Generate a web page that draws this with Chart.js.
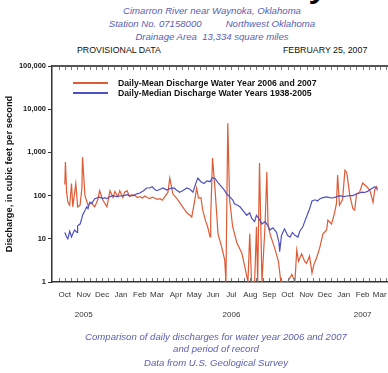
<!DOCTYPE html>
<html>
<head>
<meta charset="utf-8">
<script src="https://cdn.jsdelivr.net/npm/chart.js@4.4.0/dist/chart.umd.min.js"></script>
<style>
  html, body { margin: 0; padding: 0; background: #fff; }
  body { width: 388px; height: 373px; overflow: hidden; position: relative;
         font-family: "Liberation Sans", Arial, sans-serif; }
  #plot { position: absolute; left: 0; top: 0; }
  .t { position: absolute; white-space: nowrap; }
  .big { left: -164px; top: -42px; font-size: 44px; line-height: 44px; color: #000; }
  .hdr { left: 0; width: 424px; text-align: center; color: #5a5eb0; font-style: italic;
         font-size: 9.6px; line-height: 12px; }
  .ftr { left: 0; width: 432px; text-align: center; color: #5a5eb0; font-style: italic;
         font-size: 9.6px; line-height: 12px; }
  .cap { font-size: 8.8px; line-height: 10px; color: #111; top: 45px; }
  .leg { left: 118px; font-size: 8.7px; line-height: 10px; font-weight: bold; color: #111; }
  .sw { position: absolute; left: 73px; width: 35px; height: 2px; }
</style>
</head>
<body>
<div class="t big">Cimarron River near Waynoka</div>
<div class="t hdr" style="top:5px">Cimarron River near Waynoka, Oklahoma</div>
<div class="t hdr" style="top:18px">Station No. 07158000<span style="display:inline-block;width:24px"></span>Northwest Oklahoma</div>
<div class="t hdr" style="top:31px">Drainage Area&nbsp; 13,334 square miles</div>
<div class="t cap" style="left:77px">PROVISIONAL DATA</div>
<div class="t cap" style="left:283px">FEBRUARY 25, 2007</div>

<canvas id="plot" width="400" height="373"></canvas>

<div class="sw" style="top:82px;background:#de5b36"></div>
<div class="t leg" style="top:78px">Daily-Mean Discharge Water Year 2006 and 2007</div>
<div class="sw" style="top:92px;background:#4c50c4"></div>
<div class="t leg" style="top:88px">Daily-Median Discharge Water Years 1938-2005</div>

<div class="t ftr" style="top:331px">Comparison of daily discharges for water year 2006 and 2007</div>
<div class="t ftr" style="top:343px">and period of record</div>
<div class="t ftr" style="top:357px">Data from U.S. Geological Survey</div>

<script>
// Days counted from Oct 1, 2005; discharge in cubic feet per second.
const monthDays   = [0, 31, 61, 92, 123, 151, 182, 212, 243, 273, 304, 335, 365, 396, 426, 457, 488, 516];
const monthLabels = ['Oct','Nov','Dec','Jan','Feb','Mar','Apr','May','Jun','Jul','Aug','Sep','Oct','Nov','Dec','Jan','Feb','Mar'];
const yearLabels  = ['', '2005', '', '', '', '', '', '', '', '2006', '', '', '', '', '', '', '2007', ''];

const yTicks  = [1, 10, 100, 1000, 10000, 100000];
const yLabels = ['1', '10', '100', '1,000', '10,000', '100,000'];

// Daily-mean discharge, water years 2006 and 2007
const meanDays = [0,1,3,5,8,11,13,18,21,25,28,29,33,38,43,49,54,57,62,69,74,79,82,87,90,95,98,102,
  106,110,115,119,123,127,131,135,139,143,147,151,156,160,164,169,172,177,183,188,193,200,205,208,
  213,216,219,223,226,231,234,238,239,242,246,251,257,262,264,267,270,275,282,290,296,300,303,306,
  311,314,316,319,323,328,331,333,337,344,350,354,365,372,377,380,383,388,393,396,401,405,408,413,
  418,423,429,431,437,442,445,447,450,455,459,462,467,472,475,478,483,488,495,500,505,508,511,512];
const meanValues = [180,600,120,70,60,190,55,190,55,60,150,780,100,60,70,55,80,130,80,55,130,90,125,95,130,90,120,130,
  95,105,100,90,95,88,98,90,85,92,88,82,85,78,95,120,255,110,88,70,55,40,35,32,
  80,150,88,90,46,25,19,11,30,740,150,13,6.5,3.2,1,4700,80,19,8,4.7,1.9,1,13,1,
  1,19,1,570,1,19,350,20,12,6,3,1,1,1.5,1,5.5,3,4.5,3,2.7,4,1.6,2.5,3.8,
  6.5,13,16,27,22,40,65,300,60,80,390,340,100,50,46,110,120,195,160,130,70,140,160,130];

// Daily-median discharge, water years 1938-2005
const medianDays = [0,3,5,8,11,13,16,20,21,25,28,29,33,36,38,41,44,49,57,62,66,69,74,79,85,90,97,102,
  106,113,118,123,129,134,139,143,147,151,156,161,167,172,179,183,188,193,200,205,210,215,218,223,
  228,233,238,242,246,251,257,262,265,270,275,278,283,287,292,295,298,303,306,311,314,319,323,328,
  333,336,341,347,351,352,355,360,365,369,373,377,382,385,390,393,396,400,403,405,410,414,418,423,
  429,434,439,446,450,457,462,467,472,478,483,487,491,496,501,508,512];
const medianValues = [14,11,10,15,11,13,16,14,20,22,30,35,45,55,50,70,65,85,92,85,90,85,95,100,95,98,100,105,
  100,100,110,115,130,150,150,160,140,130,140,150,135,145,150,135,120,130,150,140,120,200,255,210,
  190,220,210,260,250,200,160,130,110,95,80,65,60,55,45,40,35,40,30,25,35,28,22,25,
  20,16,18,14,8,5,12,17,12,11,14,12,11,15,19,25,32,45,60,75,80,75,85,90,
  93,90,88,95,100,95,98,100,100,110,115,120,118,125,140,160,145];

const RED = '#de5b36';
const BLUE = '#4c50c4';
const FONT = '"Liberation Sans", Arial, sans-serif';

// Short tick marks along the inside of the top frame and the bottom axis
const minorDays = [-10];
monthDays.forEach(d => minorDays.push(d, d + 10, d + 20));

const frameTicks = {
  id: 'frameTicks',
  afterDraw(chart) {
    const { ctx, chartArea: { left, right, top, bottom }, scales: { x } } = chart;
    ctx.save();
    ctx.strokeStyle = '#555';
    ctx.lineWidth = 2;
    ctx.beginPath();
    ctx.moveTo(left, top);
    ctx.lineTo(right + 10, top);
    ctx.stroke();
    ctx.strokeStyle = '#777';
    ctx.lineWidth = 1;
    ctx.beginPath();
    minorDays.forEach(d => {
      const px = Math.round(x.getPixelForValue(d)) + 0.5;
      if (px <= left + 1 || px > right) return;
      ctx.moveTo(px, bottom - 1);
      ctx.lineTo(px, bottom - 4);
      ctx.moveTo(px, top + 1);
      ctx.lineTo(px, top + 4);
    });
    ctx.stroke();
    ctx.restore();
  }
};

new Chart(document.getElementById('plot'), {
  type: 'line',
  data: {
    datasets: [
      {
        label: 'Daily-Mean Discharge Water Year 2006 and 2007',
        data: meanDays.map((d, i) => ({ x: d, y: meanValues[i] })),
        borderColor: RED, borderWidth: 1.2, pointRadius: 0, tension: 0, order: 2
      },
      {
        label: 'Daily-Median Discharge Water Years 1938-2005',
        data: medianDays.map((d, i) => ({ x: d, y: medianValues[i] })),
        borderColor: BLUE, borderWidth: 1.2, pointRadius: 0, tension: 0, order: 1
      }
    ]
  },
  options: {
    responsive: false,
    animation: false,
    devicePixelRatio: 1,
    layout: { padding: { left: 0, right: 5, top: 66, bottom: 53 } },
    plugins: { legend: { display: false }, tooltip: { enabled: false } },
    scales: {
      x: {
        type: 'linear', min: -21, max: 541,
        afterBuildTicks: s => { s.ticks = monthDays.map(v => ({ value: v })); },
        afterFit: s => { s.height = 38; },
        ticks: {
          autoSkip: false, maxRotation: 0, minRotation: 0, padding: 8,
          color: '#333', font: { family: FONT, size: 8, lineHeight: 1.25 },
          callback: (v, i) => yearLabels[i] ? [monthLabels[i], '', yearLabels[i]] : monthLabels[i]
        },
        grid: { drawOnChartArea: false, drawTicks: false },
        border: { display: true, color: '#333', width: 1.5 }
      },
      y: {
        type: 'logarithmic', min: 1, max: 100000,
        afterBuildTicks: s => { s.ticks = yTicks.map(v => ({ value: v })); },
        afterFit: s => { s.width = 52; },
        ticks: {
          padding: 2, color: '#222',
          font: { family: FONT, size: 7.5, weight: 'bold' },
          callback: v => yLabels[yTicks.indexOf(v)]
        },
        grid: { drawOnChartArea: false, tickLength: 4, color: '#333' },
        border: { display: true, color: '#333', width: 1.5 },
        title: {
          display: true, text: 'Discharge, in cubic feet per second', color: '#111',
          font: { family: FONT, size: 9.3, weight: 'bold' }, padding: { top: 4, bottom: 0 }
        }
      }
    }
  },
  plugins: [frameTicks]
});
</script>
</body>
</html>
